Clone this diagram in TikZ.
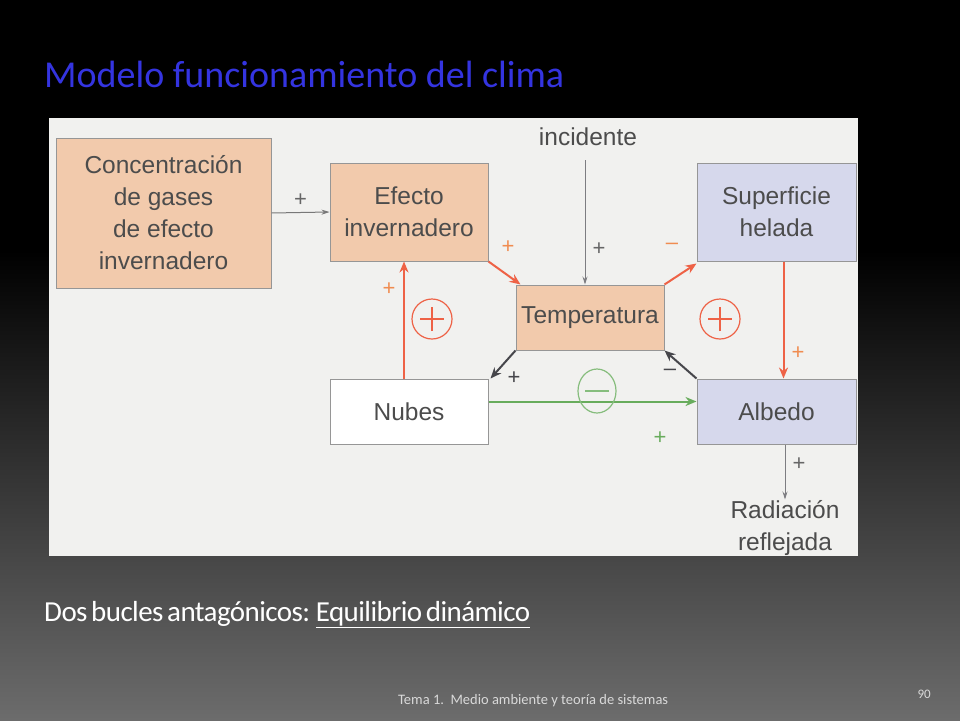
\documentclass[tikz,border=0pt]{standalone}
\usepackage{fontspec}
\setmainfont{Carlito}
\newfontfamily\diagfont{Liberation Sans}
\newfontfamily\tightfont[LetterSpace=-1.9,WordSpace=0.6]{Carlito}
\usepackage{xcolor}
\usetikzlibrary{arrows.meta,calc,positioning,shapes.geometric}
\definecolor{peach}{RGB}{242,202,172}
\definecolor{lavender}{RGB}{214,216,236}
\definecolor{boxline}{RGB}{150,150,150}
\definecolor{paper}{RGB}{241,241,239}
\definecolor{loopred}{RGB}{238,98,70}
\definecolor{plusorange}{RGB}{240,140,80}
\definecolor{loopgreen}{RGB}{104,172,92}
\definecolor{darkarrow}{RGB}{70,70,75}
\definecolor{titleblue}{RGB}{52,52,224}
\definecolor{bottomgray}{RGB}{108,108,108}
\tikzset{every picture/.style={
  >=Stealth                     % Filled arrow tips.
  }
}

\begin{document}
\begin{tikzpicture}[
    x=1pt,y=-1pt,
    box/.style={
      draw=boxline,
      line width=1pt,
      font=\diagfont\fontsize{24.5}{32}\selectfont,
      text=black!70,
      align=center,
      inner sep=0pt
    },
    warm/.style={box,fill=peach},
    cold/.style={box,fill=lavender},
    sign/.style={font=\diagfont\fontsize{22}{22}\selectfont},
    thin/.style={->,darkarrow!70,line width=0.8pt,>={Stealth[length=8pt,width=5pt]}},
    thick/.style={->,line width=2pt,>={Stealth[length=11pt,width=9pt]}},
    loopsign/.style={circle,draw,line width=1.2pt,minimum size=40pt,inner sep=0pt}
  ]

    % Slide background.
    \fill[black] (0,0) rectangle (960,250);
    \shade[top color=black,bottom color=bottomgray] (0,250) rectangle (960,720);
    \useasboundingbox (0,0) rectangle (960,720);

    % Title.
    \node[anchor=base west,inner sep=0pt,text=titleblue,
      font=\fontsize{38}{42}\selectfont] (title) at (44,87)
      {Modelo funcionamiento del clima};

    % Diagram sheet.
    \fill[paper] (49,118) rectangle (858,556);

    % Boxes.
    \node[warm,minimum width=215pt,minimum height=150pt] (gases) at (163.5,213)
      {Concentración\\de gases\\de efecto\\invernadero};
    \node[warm,minimum width=158pt,minimum height=98pt] (efecto) at (409,212)
      {Efecto\\invernadero};
    \node[warm,minimum width=148pt,minimum height=65pt] (temp) at (590,317.5)
      {Temperatura};
    \node[cold,minimum width=159pt,minimum height=98pt] (helada) at (776.5,212)
      {Superficie\\helada};
    \node[box,fill=white,minimum width=158pt,minimum height=65pt] (nubes) at (409,411.5)
      {Nubes};
    \node[cold,minimum width=159pt,minimum height=65pt] (albedo) at (776.5,411.5)
      {Albedo};

    % Free texts.
    \node[box,draw=none,anchor=base] (incid) at (588,145) {incidente};
    \node[box,draw=none,anchor=north] (radia) at (785,500)
      {Radiación\\reflejada};
    \coordinate (incidtop) at (585,160);
    \coordinate (radtop) at ($(albedo.south)+(8.5,55)$);

    % Connectors.
    \draw[thin,boxline!80!black,line width=1pt] (gases.east) --
      node[sign,above=2pt,text=black!60] {+} (efecto.west);
    \draw[thin] (incidtop) -- (incidtop |- temp.north)
      node[sign,pos=0.72,right=4pt,text=black!60] {+};
    \draw[thin] ($(albedo.south)+(8.5,0)$) -- (radtop)
      node[sign,pos=0.35,right=4pt,text=black!60] {+};

    \draw[thick,loopred] (efecto.south east) -- ([xshift=5pt]temp.north west);
    \node[sign,text=plusorange] (s1) at (508,247) {+};
    \draw[thick,loopred] (temp.north east) -- ([yshift=-2pt]helada.south west);
    \node[sign,text=plusorange] (s2) at (672,246) {–};
    \draw[thick,loopred] ([xshift=7pt]helada.south) -- ([xshift=7pt]albedo.north);
    \node[sign,text=plusorange] (s3) at (798,353) {+};
    \draw[thick,darkarrow] (albedo.north west) -- (temp.south east);
    \node[sign,text=darkarrow] (s4) at (670,372) {–};
    \draw[thick,darkarrow] (temp.south west) -- ([xshift=2pt]nubes.north east);
    \node[sign,text=darkarrow] (s5) at (514,378) {+};
    \draw[thick,loopred] ([xshift=-5pt]nubes.north) -- ([xshift=-5pt]efecto.south);
    \node[sign,text=plusorange] (s6) at (389,289) {+};
    \draw[thick,loopgreen] ([yshift=10pt]nubes.east) -- ([yshift=10pt]albedo.west);
    \node[sign,text=loopgreen] (s7) at (660,438) {+};

    % Loop polarity marks.
    \node[loopsign,draw=loopred] (loopa) at (432,319) {};
    \draw[loopred,line width=1.2pt] ([xshift=-12pt]loopa.center) -- ([xshift=12pt]loopa.center)
      ([yshift=-12pt]loopa.center) -- ([yshift=12pt]loopa.center);
    \node[loopsign,draw=loopred] (loopb) at (720,319) {};
    \draw[loopred,line width=1.2pt] ([xshift=-12pt]loopb.center) -- ([xshift=12pt]loopb.center)
      ([yshift=-12pt]loopb.center) -- ([yshift=12pt]loopb.center);
    \node[loopsign,draw=loopgreen!80,ellipse,minimum width=38pt,minimum height=44pt] (loopc) at (597,391) {};
    \draw[loopgreen!80,line width=1.2pt] ([xshift=-12pt]loopc.center) -- ([xshift=12pt]loopc.center);

    % Slide texts.
    \node[anchor=base west,inner sep=0pt,text=white,
      font=\tightfont\fontsize{29}{32}\selectfont] (sub) at (44,621)
      {Dos bucles antagónicos: \underline{Equilibrio dinámico}};
    \node[anchor=base west,inner sep=0pt,text=black!15,
      font=\fontsize{14.5}{16}\selectfont] (foot) at (398,704)
      {Tema 1.\ \ Medio ambiente y teoría de sistemas};
    \node[anchor=base east,inner sep=0pt,text=black!15,
      font=\fontsize{13}{14}\selectfont] (page) at (931,698) {90};

  \end{tikzpicture}
\end{document}
